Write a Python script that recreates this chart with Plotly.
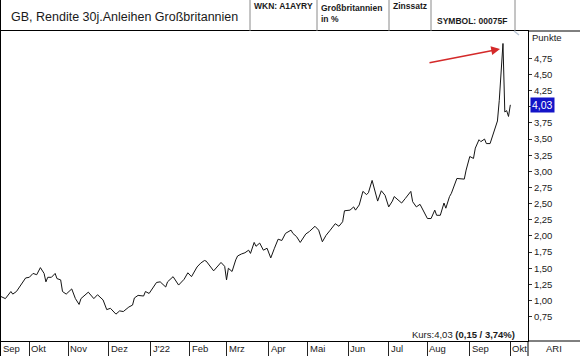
import plotly.graph_objects as go

# ---------------- data ----------------
dates = [
    "2021-09-09", "2021-09-14", "2021-09-17", "2021-09-20", "2021-09-22", "2021-09-27", "2021-09-29",
    "2021-10-01", "2021-10-05", "2021-10-07", "2021-10-11", "2021-10-13", "2021-10-14", "2021-10-15",
    "2021-10-19", "2021-10-21", "2021-10-22", "2021-10-26", "2021-10-27", "2021-10-29",
    "2021-11-03", "2021-11-05", "2021-11-09", "2021-11-10", "2021-11-16", "2021-11-19", "2021-11-23",
    "2021-11-26", "2021-11-30",
    "2021-12-02", "2021-12-06", "2021-12-07", "2021-12-09", "2021-12-13", "2021-12-16", "2021-12-20",
    "2021-12-21", "2021-12-23", "2021-12-28", "2021-12-29", "2021-12-31",
    "2022-01-04", "2022-01-06", "2022-01-10", "2022-01-13", "2022-01-14", "2022-01-19", "2022-01-24",
    "2022-01-27", "2022-01-31",
    "2022-02-02", "2022-02-07", "2022-02-09", "2022-02-11", "2022-02-14", "2022-02-18", "2022-02-23",
    "2022-02-24", "2022-02-28",
    "2022-03-01", "2022-03-02", "2022-03-04", "2022-03-08", "2022-03-09", "2022-03-11", "2022-03-15",
    "2022-03-17", "2022-03-18", "2022-03-22", "2022-03-23", "2022-03-25", "2022-03-29", "2022-03-31",
    "2022-04-04", "2022-04-06", "2022-04-08", "2022-04-12", "2022-04-14", "2022-04-19", "2022-04-20",
    "2022-04-22", "2022-04-26", "2022-04-29",
    "2022-05-03", "2022-05-06", "2022-05-10", "2022-05-12", "2022-05-16", "2022-05-18", "2022-05-23",
    "2022-05-25", "2022-05-27", "2022-05-30",
    "2022-06-02", "2022-06-06", "2022-06-07", "2022-06-09", "2022-06-13", "2022-06-15", "2022-06-16",
    "2022-06-20", "2022-06-22", "2022-06-23", "2022-06-27", "2022-06-29",
    "2022-07-01", "2022-07-05", "2022-07-06", "2022-07-08", "2022-07-12", "2022-07-14", "2022-07-19",
    "2022-07-20", "2022-07-22", "2022-07-26", "2022-07-28",
    "2022-08-01", "2022-08-03", "2022-08-05", "2022-08-08", "2022-08-10", "2022-08-12", "2022-08-15",
    "2022-08-17", "2022-08-18", "2022-08-23", "2022-08-25", "2022-08-29", "2022-08-30",
    "2022-09-01", "2022-09-05", "2022-09-06", "2022-09-08", "2022-09-09", "2022-09-13", "2022-09-14",
    "2022-09-16", "2022-09-20", "2022-09-21", "2022-09-22", "2022-09-23", "2022-09-26", "2022-09-27",
    "2022-09-28", "2022-09-29", "2022-09-30", "2022-10-03",
]
values = [
    1.07, 1.03, 1.14, 1.10, 1.14, 1.27, 1.35,
    1.36, 1.42, 1.40, 1.51, 1.42, 1.29, 1.36,
    1.36, 1.42, 1.34, 1.32, 1.14, 1.10,
    1.18, 1.03, 0.94, 1.03, 1.13, 1.03, 1.09,
    1.01, 0.86,
    0.88, 0.83, 0.79, 0.84, 0.83, 0.90, 0.93,
    1.04, 1.08, 1.07, 1.14, 1.11,
    1.19, 1.28, 1.29, 1.21, 1.29, 1.37, 1.24,
    1.33, 1.43,
    1.37, 1.52, 1.58, 1.62, 1.61, 1.46, 1.55,
    1.59, 1.53,
    1.32, 1.50, 1.45, 1.63, 1.69, 1.72, 1.74,
    1.78, 1.73, 1.90, 1.84, 1.89, 1.78, 1.81,
    1.66, 1.81, 1.95, 1.93, 2.04, 2.09, 2.04,
    1.99, 1.90, 2.03,
    2.07, 2.15, 2.09, 1.91, 2.01, 2.08, 2.19,
    2.15, 2.22, 2.39,
    2.40, 2.45, 2.40, 2.48, 2.69, 2.64, 2.67,
    2.86, 2.63, 2.54, 2.70, 2.63,
    2.45, 2.54, 2.61, 2.56, 2.51, 2.58, 2.69,
    2.53, 2.45, 2.49, 2.38,
    2.27, 2.27, 2.40, 2.32, 2.32, 2.51, 2.43,
    2.61, 2.66, 2.89, 2.88, 2.88, 3.02,
    3.23, 3.20, 3.36, 3.49, 3.46, 3.50, 3.43,
    3.43, 3.59, 3.70, 3.78, 4.10, 4.50, 4.98,
    3.92, 3.94, 3.85, 4.03,
]

month_starts = ["2021-10-01", "2021-11-01", "2021-12-01", "2022-01-03", "2022-02-01", "2022-03-01",
                "2022-04-01", "2022-05-02", "2022-06-01", "2022-07-01", "2022-08-01", "2022-09-01",
                "2022-10-03"]
month_labels = ["Okt", "Nov", "Dez", "J'22", "Feb", "Mrz", "Apr", "Mai", "Jun", "Jul", "Aug", "Sep", "Okt"]
first_month_label = "Sep"

y_tick_vals = [0.75, 1.00, 1.25, 1.50, 1.75, 2.00, 2.25, 2.50, 2.75, 3.00, 3.25, 3.50, 3.75,
               4.00, 4.25, 4.50, 4.75]
y_tick_text = ["0,75", "1,00", "1,25", "1,50", "1,75", "2,00", "2,25", "2,50", "2,75", "3,00",
               "3,25", "3,50", "3,75", "4,00", "4,25", "4,50", "4,75"]

title_text = "GB, Rendite 30j.Anleihen Großbritannien"
wkn_text = "WKN: A1AYRY"
country_text = "Großbritannien<br>in %"
type_text = "Zinssatz"
symbol_text = "SYMBOL: 00075F"
unit_text = "Punkte"
last_text = "4,03"
kurs_text = "Kurs:4,03 <b>(0,15 / 3,74%)</b>"
source_text = "ARI"

# ---------------- layout helpers (pixel -> paper) ----------------
W, H = 580, 356
ML, MR, MT, MB = 0, 52, 31, 15
PW, PH = W - ML - MR, H - MT - MB


def px(x):
    return (x - ML) / PW


def py(y):
    return (H - MB - y) / PH


FONT = "Liberation Sans, Arial, sans-serif"
TXT = "#1a1a1a"

# the last-value box covers the tick label beneath it
shown_tick_text = [("" if abs(v - values[-1]) < 0.1 else t) for v, t in zip(y_tick_vals, y_tick_text)]

fig = go.Figure()
fig.add_trace(go.Scatter(x=dates, y=values, mode="lines",
                         line=dict(color="#141414", width=1), hoverinfo="skip"))

shapes = []
for xv in [250, 317, 389, 431, 515]:
    shapes.append(dict(type="line", xref="paper", yref="paper", x0=px(xv), x1=px(xv),
                       y0=py(31), y1=py(0), line=dict(color="#8a8a8a", width=1)))
shapes.append(dict(type="line", xref="paper", yref="paper", x0=1, x1=px(W), y0=py(31), y1=py(31),
                   line=dict(color="#000", width=1)))
shapes.append(dict(type="line", xref="paper", yref="paper", x0=1, x1=px(W), y0=py(341), y1=py(341),
                   line=dict(color="#000", width=1)))
shapes.append(dict(type="line", xref="paper", yref="paper", x0=1, x1=1, y0=py(341), y1=py(H),
                   line=dict(color="#000", width=1)))
shapes.append(dict(type="line", xref="paper", yref="paper", x0=px(0.5), x1=px(0.5), y0=py(0), y1=py(H),
                   line=dict(color="#000", width=1)))
shapes.append(dict(type="line", xref="paper", yref="paper", x0=px(514), x1=px(519), y0=py(31), y1=py(35),
                   line=dict(color="#b8c4d4", width=1.5)))

ann = []
ann.append(dict(text=title_text, xref="paper", yref="paper", x=px(9), y=py(17), xanchor="left",
                yanchor="middle", showarrow=False, font=dict(family=FONT, size=12.5, color=TXT)))
ann.append(dict(text="<b>%s</b>" % wkn_text, xref="paper", yref="paper", x=px(252), y=py(6.5),
                xanchor="left", yanchor="middle", showarrow=False,
                font=dict(family=FONT, size=8.5, color=TXT)))
ann.append(dict(text="<b>%s</b>" % country_text, xref="paper", yref="paper", x=px(319), y=py(13.5),
                xanchor="left", yanchor="middle", align="left", showarrow=False,
                font=dict(family=FONT, size=8.5, color=TXT)))
ann.append(dict(text="<b>%s</b>" % type_text, xref="paper", yref="paper", x=px(391), y=py(6.5),
                xanchor="left", yanchor="middle", showarrow=False,
                font=dict(family=FONT, size=8.5, color=TXT)))
ann.append(dict(text="<b>%s</b>" % symbol_text, xref="paper", yref="paper", x=px(435), y=py(21.5),
                xanchor="left", yanchor="middle", showarrow=False,
                font=dict(family=FONT, size=8.5, color=TXT)))
ann.append(dict(text=unit_text, xref="paper", yref="paper", x=px(530), y=py(37.5),
                xanchor="left", yanchor="middle", showarrow=False,
                font=dict(family=FONT, size=9.5, color=TXT)))
ann.append(dict(text=last_text, xref="paper", yref="y", x=px(530), y=values[-1],
                xanchor="left", yanchor="middle", showarrow=False, bgcolor="#1414c8", borderpad=1,
                font=dict(family=FONT, size=10.5, color="#ffffff")))
ann.append(dict(text=kurs_text, xref="paper", yref="paper", x=px(517), y=py(334),
                xanchor="right", yanchor="middle", showarrow=False,
                font=dict(family=FONT, size=9.5, color=TXT)))
ann.append(dict(text=source_text, xref="paper", yref="paper", x=px(554), y=py(348.5),
                xanchor="center", yanchor="middle", showarrow=False,
                font=dict(family=FONT, size=9.5, color=TXT)))
ann.append(dict(text=first_month_label, xref="paper", yref="paper", x=px(1), y=py(348.5),
                xanchor="left", yanchor="middle", showarrow=False,
                font=dict(family=FONT, size=9.5, color=TXT)))
for d, lab in zip(month_starts, month_labels):
    ann.append(dict(text=lab, xref="x", yref="paper", x=d, y=py(348.5), xanchor="left",
                    yanchor="middle", showarrow=False,
                    font=dict(family=FONT, size=9.5, color=TXT)))
ann.append(dict(text="", xref="paper", yref="paper", x=px(500), y=py(49), ax=-72, ay=14,
                showarrow=True, arrowhead=2, arrowsize=1.1, arrowwidth=1.6, arrowcolor="#d42a2a"))

fig.update_layout(
    width=W, height=H, margin=dict(l=ML, r=MR, t=MT, b=MB),
    paper_bgcolor="#ffffff", plot_bgcolor="#ffffff", showlegend=False,
    shapes=shapes, annotations=ann,
    xaxis=dict(type="date", range=["2021-09-09 02:00", "2022-10-14 14:00"],
               rangebreaks=[dict(bounds=["sat", "mon"])],
               showgrid=False, zeroline=False, showline=True, linecolor="#000", linewidth=1,
               mirror=True, ticks="outside", ticklen=15, tickwidth=1, tickcolor="#222",
               tickvals=month_starts, showticklabels=False, fixedrange=True),
    yaxis=dict(side="right", range=[0.374, 5.173], tickvals=y_tick_vals, ticktext=shown_tick_text,
               showgrid=False, zeroline=False, showline=True, linecolor="#000", linewidth=1,
               mirror=True, ticks="outside", ticklen=3, tickwidth=1, tickcolor="#333",
               tickfont=dict(family=FONT, size=9.5, color="#222"), fixedrange=True),
)

fig.write_html("out.html", config={"displayModeBar": False},
               post_script="document.body.style.margin='0';document.body.style.overflow='hidden';")
